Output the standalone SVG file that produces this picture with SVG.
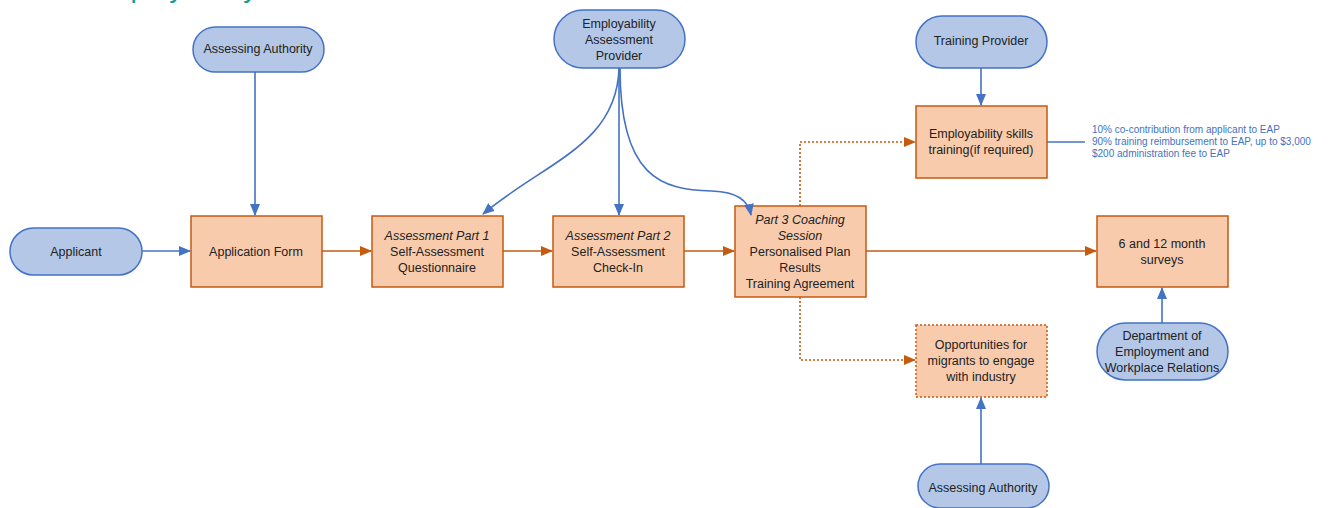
<svg xmlns="http://www.w3.org/2000/svg" width="1329" height="508" viewBox="0 0 1329 508">
<style>
.term{fill:#b4c7e7;stroke:#4472c4;stroke-width:1.5}
.proc{fill:#f8cbad;stroke:#c55a11;stroke-width:1.5}
.dot{stroke-dasharray:2,2}
text{font-family:"Liberation Sans",Arial,sans-serif;font-size:12.5px;fill:#222;text-anchor:middle}
.it{font-style:italic}
.note{font-size:10px;fill:#4472c4;text-anchor:start}
.title{font-size:29px;fill:#0f9d8f;text-anchor:start}
.b{stroke:#4472c4;stroke-width:1.6;fill:none}
.o{stroke:#c55a11;stroke-width:1.6;fill:none}
</style>
<defs>
<marker id="ab" markerWidth="12" markerHeight="10" refX="11" refY="5" orient="auto" markerUnits="userSpaceOnUse"><path d="M0,0 L12,5 L0,10 Z" fill="#4472c4"/></marker>
<marker id="ao" markerWidth="12" markerHeight="10" refX="11" refY="5" orient="auto" markerUnits="userSpaceOnUse"><path d="M0,0 L12,5 L0,10 Z" fill="#c55a11"/></marker>
</defs>
<rect width="1329" height="508" fill="#fff"/>
<text class="title" x="87" y="-3">Employability</text>

<g id="applicant"><rect class="term" x="10" y="228" width="132" height="47" rx="23.5"/><text x="76" y="256">Applicant</text></g>
<g id="assessing-authority-top"><rect class="term" x="193" y="27" width="131" height="45" rx="22.5"/><text x="258" y="53">Assessing Authority</text></g>
<g id="eap"><rect class="term" x="554" y="10" width="131" height="58" rx="29"/><text x="619" y="28">Employability</text><text x="619" y="44">Assessment</text><text x="619" y="60">Provider</text></g>
<g id="training-provider"><rect class="term" x="916" y="16" width="131" height="52" rx="26"/><text x="981" y="45">Training Provider</text></g>
<g id="dewr"><rect class="term" x="1097" y="323" width="131" height="57" rx="28.5"/><text x="1162" y="340">Department of</text><text x="1162" y="356">Employment and</text><text x="1162" y="372">Workplace Relations</text></g>
<g id="assessing-authority-bottom"><rect class="term" x="918" y="464" width="131" height="44" rx="22"/><text x="983" y="492">Assessing Authority</text></g>

<g id="application-form"><rect class="proc" x="191" y="216" width="131" height="71"/><text x="256" y="256">Application Form</text></g>
<g id="assessment-part1"><rect class="proc" x="372" y="216" width="131" height="71"/><text class="it" x="437" y="240">Assessment Part 1</text><text x="437" y="256">Self-Assessment</text><text x="437" y="272">Questionnaire</text></g>
<g id="assessment-part2"><rect class="proc" x="553" y="216" width="131" height="71"/><text class="it" x="618" y="240">Assessment Part 2</text><text x="618" y="256">Self-Assessment</text><text x="618" y="272">Check-In</text></g>
<g id="part3"><rect class="proc" x="735" y="206" width="131" height="91"/><text class="it" x="800" y="224">Part 3 Coaching</text><text class="it" x="800" y="240">Session</text><text x="800" y="256">Personalised Plan</text><text x="800" y="272">Results</text><text x="800" y="288">Training Agreement</text></g>
<g id="skills-training"><rect class="proc" x="916" y="106" width="131" height="72"/><text x="981" y="138">Employability skills</text><text x="981" y="154">training(if required)</text></g>
<g id="opportunities"><rect class="proc dot" x="916" y="325" width="131" height="72"/><text x="981" y="349">Opportunities for</text><text x="981" y="365">migrants to engage</text><text x="981" y="381">with industry</text></g>
<g id="surveys"><rect class="proc" x="1097" y="216" width="131" height="71"/><text x="1162" y="248">6 and 12 month</text><text x="1162" y="264">surveys</text></g>

<g id="note"><text class="note" x="1092" y="133">10% co-contribution from applicant to EAP</text><text class="note" x="1092" y="145">90% training reimbursement to EAP, up to $3,000</text><text class="note" x="1092" y="157">$200 administration fee to EAP</text></g>

<g id="connectors">
<path class="b" d="M142,251 H190" marker-end="url(#ab)"/>
<path class="b" d="M255,72 V215" marker-end="url(#ab)"/>
<path class="o" d="M322,251 H371" marker-end="url(#ao)"/>
<path class="o" d="M503,251 H552" marker-end="url(#ao)"/>
<path class="o" d="M684,251 H734" marker-end="url(#ao)"/>
<path class="o" d="M866,251 H1096" marker-end="url(#ao)"/>
<path class="o dot" d="M800,206 V142 H915" marker-end="url(#ao)"/>
<path class="o dot" d="M800,297 V360 H915" marker-end="url(#ao)"/>
<path class="b" d="M981,68 V105" marker-end="url(#ab)"/>
<path class="b" d="M1047,142 H1085"/>
<path class="b" d="M619,68 C617,145 545,162 483,214" marker-end="url(#ab)"/>
<path class="b" d="M619,68 V215" marker-end="url(#ab)"/>
<path class="b" d="M620,68 C620,178 662,190 712,191 C737,192 748,200 751,215" marker-end="url(#ab)"/>
<path class="b" d="M1162,323 V288" marker-end="url(#ab)"/>
<path class="b" d="M981,464 V398" marker-end="url(#ab)"/>
</g>
</svg>
